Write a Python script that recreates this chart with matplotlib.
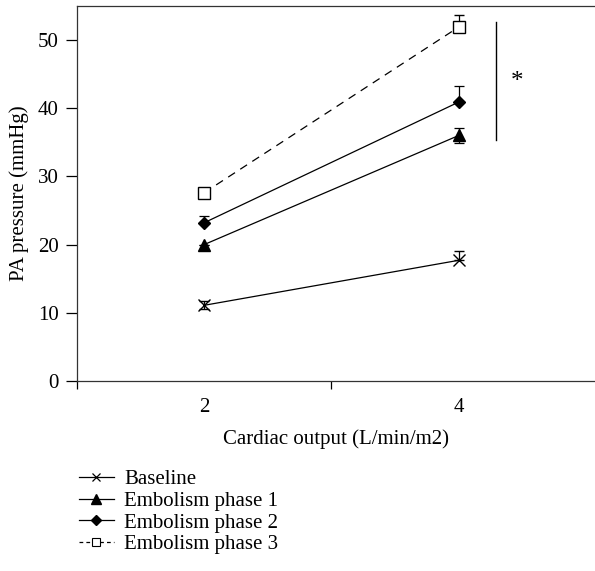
import numpy as np
import matplotlib
matplotlib.use('Agg')
import matplotlib.pyplot as plt
from matplotlib.lines import Line2D

plt.rcParams['font.family'] = 'Liberation Serif'

# data
x = [2, 4]
baseline = [11.1, 17.7]
phase1 = [20.0, 36.0]
phase2 = [23.2, 40.9]
phase3 = [27.6, 51.9]

# error bars (lower, upper)
base_err = [[0.5, 0.0], [0.6, 1.3]]
p1_err = [[0.0, 1.1], [0.0, 1.1]]
p2_err = [[0.0, 0.0], [1.0, 2.3]]
p3_err = [[0.0, 0.0], [0.0, 1.7]]

labels = ['Baseline', 'Embolism phase 1', 'Embolism phase 2', 'Embolism phase 3']

fig = plt.figure(figsize=(5.95, 5.71), dpi=100)
ax = fig.add_axes([0.129, 0.3327, 0.871, 0.657])

dash = (0, (6.5, 5))
kw = dict(color='black', lw=0.9, capsize=3.5, elinewidth=0.9, capthick=0.9)
ax.errorbar(x, baseline, yerr=base_err, marker='x', ms=8, mew=1.0, ls='-', **kw)
ax.errorbar(x, phase1, yerr=p1_err, marker='^', ms=9, ls='-', **kw)
ax.errorbar(x, phase2, yerr=p2_err, marker='D', ms=6.5, ls='-', **kw)
ax.errorbar(x, phase3, yerr=p3_err, marker='s', ms=8, mfc='white', mew=1.0,
            ls=dash, **kw)

# significance bar
ax.plot([4.29, 4.29], [35.3, 52.6], color='black', lw=1.0)
ax.text(4.46, 43.8, '*', fontsize=18, ha='center', va='center')

ax.set_xlim(1, 5.07)
ax.set_ylim(0, 55)
ax.set_xticks([1, 3])
ax.set_xticklabels([])
ax.set_xticks([2, 4], minor=True)
ax.set_xticklabels(['2', '4'], minor=True, fontsize=15)
ax.tick_params(axis='x', which='minor', length=0, pad=12)
ax.tick_params(axis='x', which='major', length=6, width=0.9)
ax.set_yticks([0, 10, 20, 30, 40, 50])
ax.tick_params(axis='y', length=8, width=0.9, labelsize=15, pad=5)
ax.spines['right'].set_visible(False)
for s in ['left', 'bottom', 'top']:
    ax.spines[s].set_linewidth(0.9)
    ax.spines[s].set_color('#333333')

ax.set_xlabel('Cardiac output (L/min/m2)', fontsize=15, labelpad=9)
ax.set_ylabel('PA pressure (mmHg)', fontsize=15, labelpad=6)

handles = [
    Line2D([], [], color='black', lw=0.9, marker='x', ms=6, mew=0.9),
    Line2D([], [], color='black', lw=0.9, marker='^', ms=7),
    Line2D([], [], color='black', lw=0.9, marker='D', ms=5),
    Line2D([], [], color='black', lw=0.9, ls=(0, (3, 2.5)), marker='s', ms=6,
           mfc='white', mew=0.8),
]
fig.legend(handles, labels, loc='upper left', bbox_to_anchor=(0.118, 0.192),
           frameon=False, fontsize=15, handlelength=1.7, labelspacing=0.1,
           handletextpad=0.5, borderaxespad=0)

fig.savefig('out.png', dpi=100)
